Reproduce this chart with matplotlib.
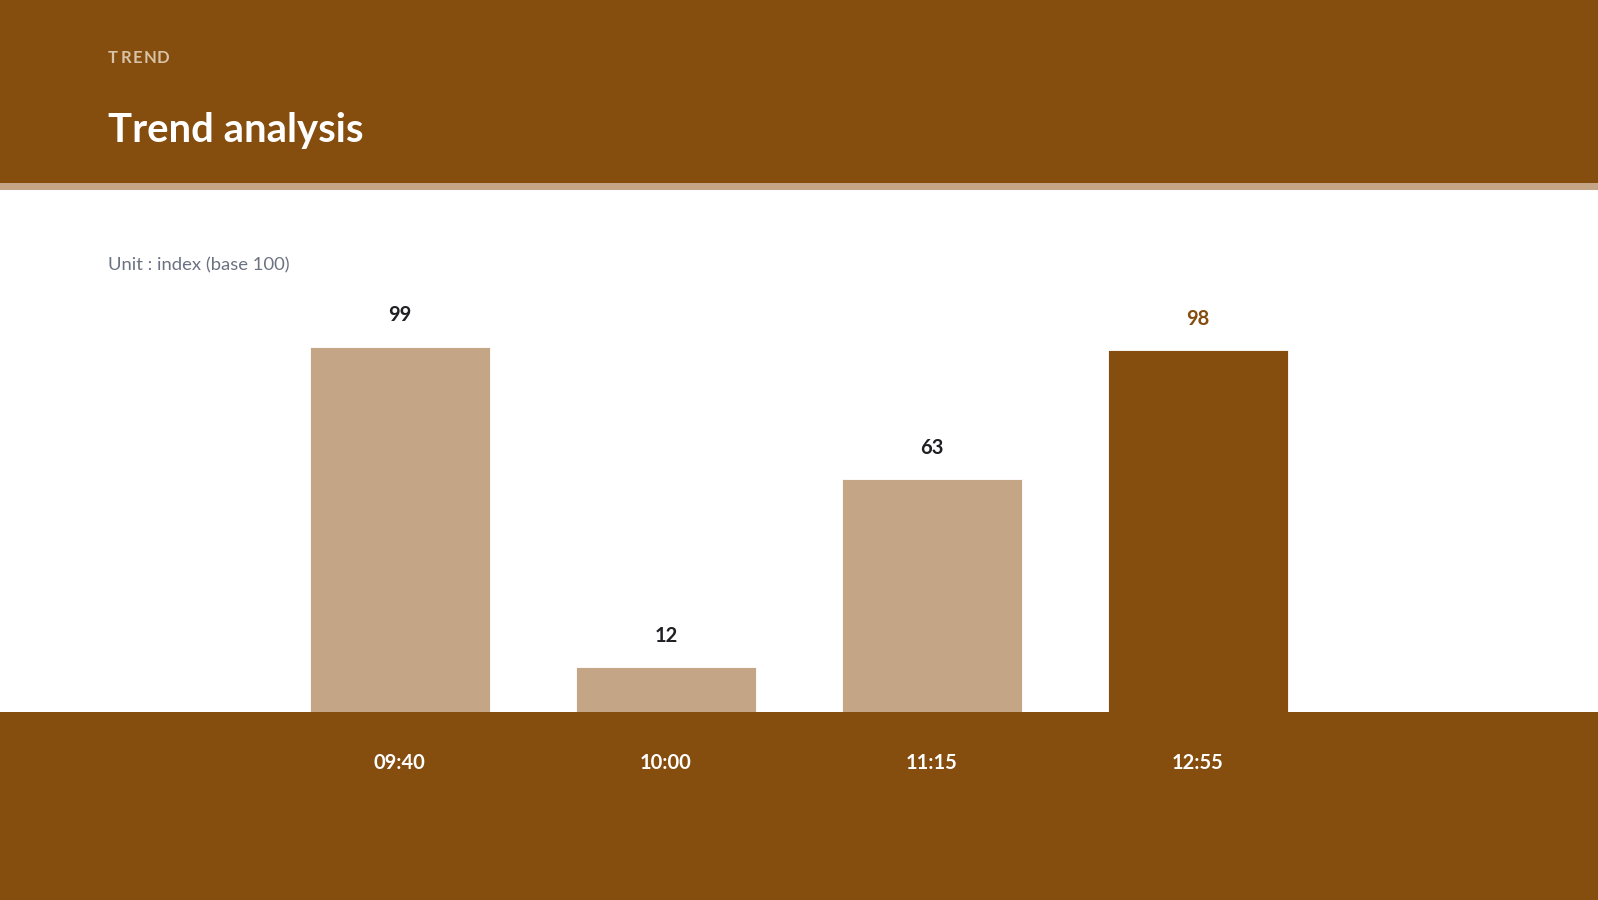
import matplotlib.pyplot as plt
import matplotlib.patches as patches
from matplotlib.textpath import TextPath
from matplotlib.font_manager import FontProperties

plt.rcParams['font.family'] = ['Lato', 'DejaVu Sans']

# chart data
times = ["09:40", "10:00", "11:15", "12:55"]
values = [99, 12, 63, 98]
highlight = "12:55"

BROWN = "#854D0E"
TAN = "#C4A586"
INK = "#1F1F24"
GRAY = "#6B7280"

W, H = 1598, 900
fig = plt.figure(figsize=(W / 100, H / 100), dpi=100)
fig.patch.set_facecolor("white")

# header band + thin strip, footer band (behind the axes)
for y0, h, c in [(0.797, 0.203, BROWN), (0.789, 0.008, TAN), (0, 0.2092, BROWN)]:
    fig.patches.append(patches.Rectangle((0, y0), 1, h, transform=fig.transFigure,
                                         facecolor=c, edgecolor="none", zorder=-5))

# letter-spaced kicker
fp = FontProperties(family="Lato", weight="bold", size=12)
x = 108
for ch in "TREND":
    fig.text(x / W, 0.9296, ch, color="#D9C3A6", fontproperties=fp,
             va="baseline", ha="left")
    x += TextPath((0, 0), ch, prop=fp).get_extents().width * 100 / 72 + 3.0

fig.text(0.0676, 0.8426, "Trend analysis", color="white", fontsize=28.8,
         fontweight="bold", va="baseline", ha="left")
fig.text(0.0676, 0.6992, "Unit : index (base 100)", color=GRAY, fontsize=13.3,
         va="baseline", ha="left")

ax = fig.add_axes([0, 0.2092, 1, 0.789 - 0.2092])
ax.patch.set_alpha(0)

colors = [BROWN if t == highlight else TAN for t in times]
ax.bar(range(len(times)), values, width=0.675, color=colors,
       edgecolor="white", linewidth=0.6, zorder=2)

for i, (t, v) in enumerate(zip(times, values)):
    ax.annotate(str(v), (i, v), xytext=(0, 22.5), textcoords="offset points",
                ha="center", va="center", fontsize=14.5, fontweight="bold",
                color=BROWN if t == highlight else INK)

ax.set_xlim(-1.502, 4.503)
ax.set_ylim(0, 141.5)
ax.set_xticks(range(len(times)))
ax.set_xticklabels(times, color="white", fontsize=14.5, fontweight="bold")
ax.tick_params(axis="x", length=0, pad=30)
ax.set_yticks([])
for s in ax.spines.values():
    s.set_visible(False)

fig.savefig("out.png", dpi=100)
